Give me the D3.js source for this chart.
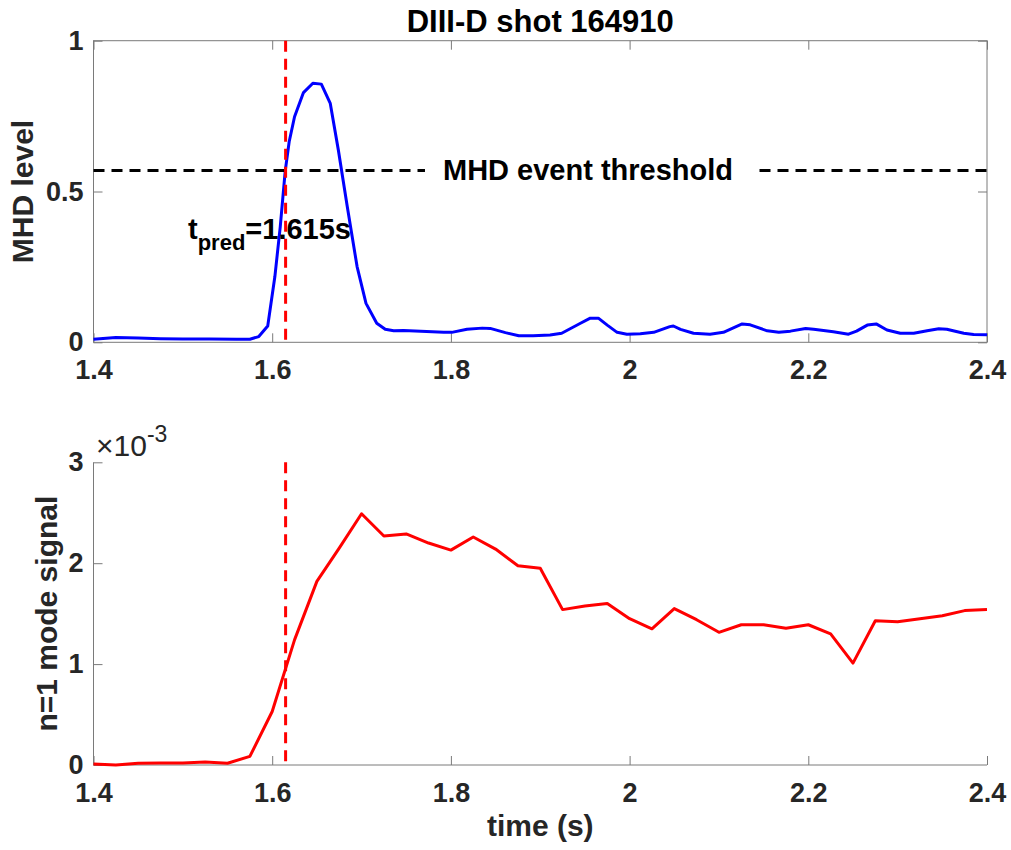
<!DOCTYPE html>
<html>
<head>
<meta charset="utf-8">
<script src="https://cdn.jsdelivr.net/npm/d3@7"></script>
<style>
  body { margin: 0; background: #fff; }
  svg text { font-family: "Liberation Sans", Arial, Helvetica, sans-serif; }
</style>
</head>
<body>
<div id="graph"></div>
<script>
var mhdTime = [1.40, 1.425, 1.45, 1.475, 1.50, 1.53, 1.56, 1.575, 1.585, 1.595,
    1.603, 1.609, 1.6145, 1.619, 1.625, 1.635, 1.6455, 1.655, 1.665, 1.674,
    1.684, 1.695, 1.705, 1.717, 1.7265, 1.736, 1.747, 1.792, 1.801, 1.818,
    1.835, 1.844, 1.861, 1.876, 1.892, 1.911, 1.924, 1.945, 1.956, 1.965,
    1.975, 1.986, 1.997, 2.012, 2.027, 2.045, 2.049, 2.057, 2.0715, 2.090,
    2.105, 2.126, 2.135, 2.154, 2.167, 2.180, 2.197, 2.206, 2.228, 2.245,
    2.254, 2.266, 2.276, 2.288, 2.303, 2.318, 2.333, 2.346, 2.355, 2.374,
    2.385, 2.40];
var mhdLevel = [0.010, 0.016, 0.014, 0.012, 0.011, 0.011, 0.010, 0.010, 0.019, 0.054,
    0.218, 0.383, 0.566, 0.665, 0.748, 0.828, 0.859, 0.856, 0.792, 0.638,
    0.450, 0.251, 0.129, 0.063, 0.043, 0.038, 0.039, 0.033, 0.033, 0.043,
    0.047, 0.046, 0.032, 0.022, 0.022, 0.024, 0.030, 0.063, 0.080, 0.080,
    0.057, 0.033, 0.027, 0.028, 0.033, 0.052, 0.054, 0.043, 0.030, 0.027,
    0.033, 0.061, 0.058, 0.038, 0.033, 0.037, 0.046, 0.043, 0.035, 0.027,
    0.037, 0.057, 0.061, 0.041, 0.030, 0.030, 0.038, 0.045, 0.043, 0.030,
    0.026, 0.025];

// n=1 mode signal (bottom panel), in units of 1e-3
var modeTime = [1.400, 1.425, 1.450, 1.475, 1.500, 1.525, 1.550, 1.575, 1.600, 1.625,
    1.650, 1.675, 1.700, 1.725, 1.750, 1.775, 1.800, 1.825, 1.850, 1.875,
    1.900, 1.925, 1.950, 1.975, 2.000, 2.025, 2.050, 2.075, 2.100, 2.125,
    2.150, 2.175, 2.200, 2.225, 2.250, 2.275, 2.300, 2.325, 2.350, 2.375, 2.400];
var modeSignal = [0.01, 0.00, 0.017, 0.02, 0.02, 0.03, 0.017, 0.085, 0.53, 1.24,
    1.82, 2.15, 2.49, 2.27, 2.29, 2.20, 2.13, 2.26, 2.14, 1.975,
    1.95, 1.54, 1.576, 1.60, 1.45, 1.35, 1.55, 1.44, 1.315, 1.39,
    1.39, 1.355, 1.39, 1.30, 1.01, 1.43, 1.42, 1.45, 1.48, 1.53, 1.54];

var xTicks = [1.4, 1.6, 1.8, 2, 2.2, 2.4];
var mhdTicks = [0, 0.5, 1];
var modeTicks = [0, 1, 2, 3];
var tPred = 1.615;
var threshold = 0.57;

var width = 1011, height = 850;
var left = 93.5, right = 987;
var top1 = 40.7, bottom1 = 342.3;
var top2 = 462.3, bottom2 = 765;
var tickLen = 9;
var font = "\"Liberation Sans\", Arial, Helvetica, sans-serif";
var axisColor = "#7a7a7a", labelColor = "#262626";

var svg = d3.select("#graph")
    .append("svg")
    .attr("width", width)
    .attr("height", height);

var xScale = d3.scaleLinear().domain([1.4, 2.4]).range([left, right]);
var yTop = d3.scaleLinear().domain([0, 1]).range([bottom1, top1]);
var yBot = d3.scaleLinear().domain([0, 3]).range([bottom2, top2]);

var fmt = function(d) { return String(d); };

function styleAxis(g) {
    g.select(".domain").remove();
    g.selectAll(".tick line").attr("stroke", axisColor);
    g.selectAll(".tick text")
        .attr("fill", labelColor)
        .style("font-size", "27px")
        .style("font-weight", "bold")
        .style("font-family", font);
}

// ---- top panel ----
svg.append("g")
    .attr("transform", "translate(0," + bottom1 + ")")
    .call(d3.axisBottom(xScale).tickValues(xTicks).tickFormat(fmt)
        .tickSizeInner(-tickLen).tickSizeOuter(0).tickPadding(18))
    .call(styleAxis);
svg.append("g")
    .attr("transform", "translate(0," + top1 + ")")
    .call(d3.axisTop(xScale).tickValues(xTicks).tickFormat("")
        .tickSizeInner(-tickLen).tickSizeOuter(0))
    .call(styleAxis);
svg.append("g")
    .attr("transform", "translate(" + left + ",0)")
    .call(d3.axisLeft(yTop).tickValues(mhdTicks).tickFormat(fmt)
        .tickSizeInner(-tickLen).tickSizeOuter(0).tickPadding(10))
    .call(styleAxis);
svg.append("g")
    .attr("transform", "translate(" + right + ",0)")
    .call(d3.axisRight(yTop).tickValues(mhdTicks).tickFormat("")
        .tickSizeInner(-tickLen).tickSizeOuter(0))
    .call(styleAxis);

svg.append("rect")
    .attr("x", left).attr("y", top1)
    .attr("width", right - left).attr("height", bottom1 - top1)
    .attr("fill", "none")
    .attr("stroke", axisColor)
    .attr("stroke-width", 1);

var mhdLine = d3.line()
    .x(function(d, i) { return xScale(mhdTime[i]); })
    .y(function(d) { return yTop(d); });

svg.append("path")
    .datum(mhdLevel)
    .attr("d", mhdLine)
    .attr("fill", "none")
    .attr("stroke", "#0000ff")
    .attr("stroke-width", 3)
    .attr("stroke-linejoin", "round");

// threshold line with boxed label
svg.append("line")
    .attr("x1", xScale(1.4)).attr("x2", xScale(2.4))
    .attr("y1", yTop(threshold)).attr("y2", yTop(threshold))
    .attr("stroke", "#000")
    .attr("stroke-width", 3)
    .attr("stroke-dasharray", "11,7");

var thrBox = svg.append("rect").attr("fill", "#fff");
var thrText = svg.append("text")
    .attr("x", 588)
    .attr("y", 180)
    .attr("text-anchor", "middle")
    .style("font-size", "29px")
    .style("font-weight", "bold")
    .attr("fill", "#000")
    .text("MHD event threshold");
var bb = thrText.node().getBBox();
thrBox.attr("x", bb.x - 18).attr("y", bb.y + 2)
    .attr("width", bb.width + 38).attr("height", bb.height - 4);

svg.append("line")
    .attr("x1", xScale(tPred)).attr("x2", xScale(tPred))
    .attr("y1", top1).attr("y2", bottom1)
    .attr("stroke", "#ff0000")
    .attr("stroke-width", 3)
    .attr("stroke-dasharray", "11,7");

var tLabel = svg.append("text")
    .attr("x", 188)
    .attr("y", 239)
    .style("font-size", "29px")
    .style("font-weight", "bold")
    .attr("fill", "#000");
tLabel.append("tspan").text("t");
tLabel.append("tspan").attr("dy", 11).style("font-size", "22px").text("pred");
tLabel.append("tspan").attr("dy", -11).text("=1.615s");

svg.append("text")
    .attr("x", (left + right) / 2)
    .attr("y", 32)
    .attr("text-anchor", "middle")
    .style("font-size", "31px")
    .style("font-weight", "bold")
    .attr("fill", "#000")
    .text("DIII-D shot 164910");

svg.append("text")
    .attr("transform", "translate(33," + (top1 + bottom1) / 2 + ") rotate(-90)")
    .attr("text-anchor", "middle")
    .style("font-size", "30px")
    .style("font-weight", "bold")
    .attr("fill", labelColor)
    .text("MHD level");

// ---- bottom panel ----
svg.append("g")
    .attr("transform", "translate(0," + bottom2 + ")")
    .call(d3.axisBottom(xScale).tickValues(xTicks).tickFormat(fmt)
        .tickSizeInner(-tickLen).tickSizeOuter(0).tickPadding(18))
    .call(styleAxis);
svg.append("g")
    .attr("transform", "translate(" + left + ",0)")
    .call(d3.axisLeft(yBot).tickValues(modeTicks).tickFormat(fmt)
        .tickSizeInner(-tickLen).tickSizeOuter(0).tickPadding(10))
    .call(styleAxis);

svg.append("line")
    .attr("x1", left).attr("x2", right)
    .attr("y1", bottom2).attr("y2", bottom2)
    .attr("stroke", axisColor);
svg.append("line")
    .attr("x1", left).attr("x2", left)
    .attr("y1", top2).attr("y2", bottom2)
    .attr("stroke", axisColor);

var modeLine = d3.line()
    .x(function(d, i) { return xScale(modeTime[i]); })
    .y(function(d) { return yBot(d); });

svg.append("path")
    .datum(modeSignal)
    .attr("d", modeLine)
    .attr("fill", "none")
    .attr("stroke", "#ff0000")
    .attr("stroke-width", 3)
    .attr("stroke-linejoin", "round");

svg.append("line")
    .attr("x1", xScale(tPred)).attr("x2", xScale(tPred))
    .attr("y1", top2).attr("y2", bottom2)
    .attr("stroke", "#ff0000")
    .attr("stroke-width", 3)
    .attr("stroke-dasharray", "11,7");

var expLabel = svg.append("text")
    .attr("x", 96)
    .attr("y", 456)
    .style("font-size", "30px")
    .attr("fill", labelColor);
expLabel.append("tspan").text("\u00d710");
expLabel.append("tspan").attr("dy", -14).style("font-size", "23px").text("-3");

svg.append("text")
    .attr("transform", "translate(57," + (top2 + bottom2) / 2 + ") rotate(-90)")
    .attr("text-anchor", "middle")
    .style("font-size", "30px")
    .style("font-weight", "bold")
    .attr("fill", labelColor)
    .text("n=1 mode signal");

svg.append("text")
    .attr("x", (left + right) / 2)
    .attr("y", 836)
    .attr("text-anchor", "middle")
    .style("font-size", "30px")
    .style("font-weight", "bold")
    .attr("fill", labelColor)
    .text("time (s)");
</script>
</body>
</html>
